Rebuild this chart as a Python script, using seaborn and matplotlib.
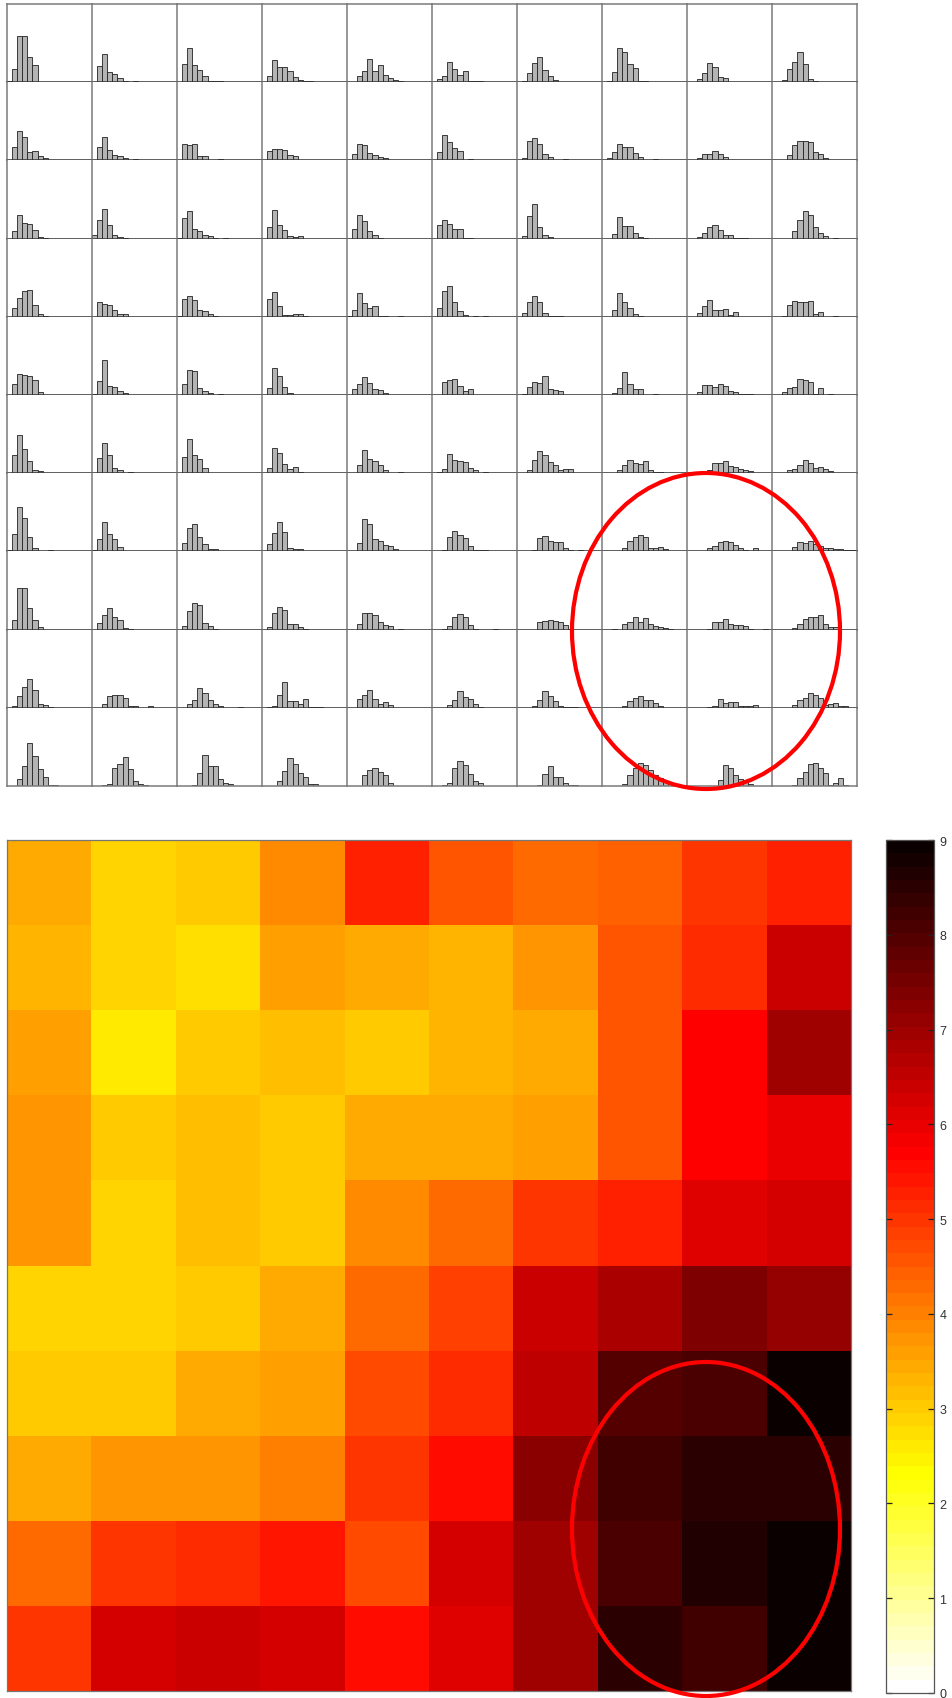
import numpy as np
import pandas as pd
import matplotlib
import matplotlib.pyplot as plt
import seaborn as sns
from matplotlib.patches import Ellipse

# bar heights of the small histograms, one list per grid row (10 cells each),
# bins start at 0 and have unit width
hist_row0 = [
    [1, 13, 46, 46, 25, 17],
    [0, 16, 28, 10, 8, 4, 1, 0, 1],
    [0, 18, 34, 17, 12, 6, 1, 1, 1],
    [0, 6, 22, 15, 15, 11, 5, 2, 1, 1],
    [0, 0, 6, 11, 23, 11, 17, 7, 4, 2, 1],
    [0, 3, 6, 20, 13, 7, 11, 1, 1, 1],
    [0, 1, 9, 19, 25, 12, 6, 2],
    [0, 1, 10, 34, 30, 18, 14, 1, 1],
    [0, 0, 3, 9, 19, 15, 5, 4],
    [0, 0, 2, 13, 20, 30, 18, 3, 1],
]
hist_row1 = [
    [0, 13, 29, 23, 8, 9, 4, 2],
    [0, 13, 23, 10, 5, 4, 2, 0, 1],
    [0, 16, 15, 16, 4, 4, 0, 0, 1],
    [0, 9, 11, 11, 10, 5, 4],
    [0, 6, 16, 15, 7, 5, 3, 2],
    [0, 8, 25, 18, 12, 9, 0, 1],
    [0, 2, 19, 22, 16, 6, 3, 0, 0, 1],
    [0, 2, 8, 16, 13, 13, 7, 3, 0, 0, 1],
    [0, 0, 2, 6, 6, 9, 6, 3],
    [0, 0, 0, 5, 15, 19, 19, 18, 8, 6, 2],
]
hist_row2 = [
    [0, 8, 24, 16, 15, 9, 2, 1],
    [4, 19, 30, 14, 4, 2, 1],
    [1, 21, 28, 10, 8, 4, 3, 1, 0, 1],
    [0, 12, 29, 14, 9, 3, 2, 3],
    [0, 10, 24, 18, 8, 4, 1],
    [0, 14, 19, 15, 10, 10, 1, 1],
    [0, 3, 23, 35, 12, 4, 2],
    [0, 0, 5, 22, 13, 13, 6, 2, 1],
    [0, 0, 2, 6, 12, 14, 9, 4, 4, 1, 1, 1],
    [0, 0, 0, 0, 8, 19, 28, 24, 12, 6, 3, 0, 1],
]
hist_row3 = [
    [0, 9, 19, 26, 27, 12, 3, 1],
    [0, 15, 13, 12, 7, 3, 3],
    [1, 18, 21, 17, 7, 6, 3, 1],
    [0, 18, 25, 11, 2, 2, 3, 3, 1],
    [1, 7, 24, 14, 9, 11, 1, 1, 0, 0, 1],
    [0, 9, 26, 31, 15, 6, 2, 0, 1, 0, 1],
    [0, 4, 15, 21, 15, 4, 1, 1, 1],
    [0, 0, 7, 24, 15, 9, 3, 1],
    [0, 0, 4, 11, 17, 7, 7, 8, 2, 5],
    [0, 0, 1, 12, 16, 15, 15, 16, 3, 5, 0, 0, 1],
]
hist_row4 = [
    [0, 11, 21, 20, 19, 15, 3],
    [1, 14, 35, 9, 8, 4, 2],
    [0, 11, 25, 24, 7, 4, 2, 0, 1],
    [0, 7, 27, 19, 8, 2],
    [0, 6, 11, 18, 12, 6, 5, 2],
    [0, 0, 13, 15, 16, 9, 4, 6],
    [0, 1, 8, 13, 12, 19, 6, 5, 4],
    [0, 0, 2, 7, 23, 11, 6, 6, 0, 0, 1],
    [0, 0, 3, 10, 10, 8, 11, 9, 4, 3, 1, 1, 1],
    [0, 0, 3, 7, 8, 16, 15, 13, 1, 7, 0, 1],
]
hist_row5 = [
    [0, 18, 38, 24, 12, 3, 2],
    [0, 15, 30, 18, 5, 3, 0, 1],
    [0, 16, 34, 18, 14, 5],
    [0, 5, 25, 20, 9, 4, 6, 1],
    [0, 0, 8, 23, 14, 12, 8, 3, 0, 0, 1],
    [0, 1, 4, 19, 13, 12, 11, 5, 3, 0, 1],
    [0, 0, 3, 13, 22, 18, 11, 8, 3, 4, 4],
    [0, 0, 0, 3, 8, 13, 10, 9, 12, 3, 1, 1],
    [0, 0, 0, 0, 3, 10, 10, 12, 7, 6, 4, 3, 2],
    [0, 0, 0, 3, 4, 8, 13, 10, 5, 6, 4, 2],
]
hist_row6 = [
    [1, 17, 44, 33, 14, 3, 0, 0, 1],
    [1, 12, 29, 17, 12, 4],
    [0, 8, 23, 27, 14, 7, 2, 2],
    [0, 7, 18, 29, 19, 3, 2, 2],
    [0, 0, 8, 32, 27, 12, 10, 6, 5, 2],
    [0, 0, 1, 14, 20, 16, 13, 5, 1, 1, 1],
    [0, 0, 0, 1, 13, 15, 10, 9, 9, 3, 1, 0, 1],
    [0, 0, 0, 0, 3, 10, 14, 16, 14, 3, 3, 4, 2],
    [0, 0, 0, 0, 3, 5, 9, 10, 9, 6, 3, 1, 0, 3],
    [0, 0, 0, 0, 4, 9, 8, 10, 7, 5, 3, 3, 2, 2, 1, 1, 1],
]
hist_row7 = [
    [0, 10, 41, 41, 22, 10, 3],
    [0, 7, 15, 22, 13, 10, 2, 1],
    [0, 4, 19, 27, 25, 7, 4, 1],
    [0, 3, 17, 23, 20, 6, 6, 3, 1],
    [0, 0, 6, 17, 17, 15, 8, 5, 4, 0, 1],
    [0, 0, 1, 4, 13, 16, 13, 5, 1, 0, 0, 0, 1],
    [0, 0, 0, 0, 8, 9, 10, 9, 8, 5, 1],
    [0, 0, 1, 0, 6, 8, 13, 8, 12, 6, 4, 3, 2, 1],
    [0, 0, 0, 0, 1, 8, 8, 11, 6, 5, 5, 4, 1, 0, 0, 1],
    [0, 0, 0, 0, 2, 6, 11, 13, 13, 15, 6, 3, 3],
]
hist_row8 = [
    [0, 2, 12, 21, 29, 18, 4, 3, 1],
    [0, 0, 4, 12, 13, 13, 10, 2, 2, 0, 0, 2],
    [0, 0, 4, 8, 20, 15, 8, 4, 2, 0, 0, 0, 1],
    [0, 1, 2, 13, 26, 7, 7, 4, 9, 1, 1, 1],
    [0, 0, 9, 13, 18, 9, 4, 6, 3],
    [0, 0, 0, 3, 8, 17, 11, 9, 4, 1],
    [0, 0, 0, 2, 8, 17, 12, 7, 2, 1, 1, 1],
    [0, 0, 0, 0, 2, 7, 10, 12, 8, 8, 5, 2],
    [0, 0, 0, 0, 1, 2, 9, 5, 6, 6, 2, 2, 2, 3],
    [0, 0, 0, 0, 3, 8, 10, 15, 13, 10, 3, 4, 5, 2, 2],
]
hist_row9 = [
    [0, 0, 7, 20, 43, 30, 17, 9, 1, 1],
    [0, 0, 1, 2, 18, 22, 29, 17, 5, 2, 1],
    [0, 0, 0, 1, 13, 31, 20, 20, 7, 3, 2],
    [0, 0, 0, 5, 15, 28, 22, 13, 9, 2, 2],
    [0, 0, 0, 11, 16, 18, 14, 11, 3],
    [0, 0, 1, 3, 18, 25, 21, 12, 5, 3],
    [0, 0, 0, 0, 1, 12, 20, 9, 9, 3, 1, 1],
    [0, 0, 0, 0, 2, 11, 18, 23, 21, 16, 11, 8, 4],
    [0, 0, 0, 0, 0, 0, 6, 21, 18, 11, 7, 4, 2],
    [0, 0, 0, 0, 1, 8, 14, 22, 23, 18, 13, 1, 3, 8, 1],
]
hist_rows = [hist_row0, hist_row1, hist_row2, hist_row3, hist_row4,
             hist_row5, hist_row6, hist_row7, hist_row8, hist_row9]

# per-cell values of the heat map (top row first)
heat_values = [
    [3.48, 2.90, 3.03, 3.89, 5.28, 4.60, 4.23, 4.40, 4.96, 5.28],
    [3.35, 2.90, 2.73, 3.62, 3.48, 3.35, 3.78, 4.50, 5.17, 6.39],
    [3.62, 2.62, 3.03, 3.16, 3.03, 3.35, 3.45, 4.58, 5.71, 6.98],
    [3.78, 3.03, 3.16, 3.03, 3.45, 3.45, 3.55, 4.58, 5.64, 6.02],
    [3.78, 2.90, 3.16, 3.03, 3.89, 4.29, 4.93, 5.30, 6.05, 6.26],
    [2.86, 2.86, 3.03, 3.43, 4.23, 4.85, 6.33, 6.84, 7.42, 7.08],
    [3.03, 3.03, 3.45, 3.55, 4.75, 5.15, 6.58, 7.95, 8.11, 8.86],
    [3.45, 3.72, 3.72, 4.00, 5.00, 5.62, 7.20, 8.18, 8.45, 8.49],
    [4.29, 5.00, 5.17, 5.44, 4.72, 6.19, 6.98, 8.11, 8.60, 9.00],
    [5.06, 6.19, 6.46, 6.19, 5.60, 6.05, 6.98, 8.45, 8.28, 8.92],
]
cbar_ticks = list(range(10))

W, H = 952, 1699
fig = plt.figure(figsize=(W / 100, H / 100), dpi=100)


def box(x0, y0, x1, y1):
    # pixel box (top-left origin) -> figure fraction rect
    return [x0 / W, 1 - y1 / H, (x1 - x0) / W, (y1 - y0) / H]


# grid of histograms
cw, ch = 85.0, 78.2
for r, row in enumerate(hist_rows):
    for c, counts in enumerate(row):
        ax = fig.add_axes(box(7 + c * cw, 5 + r * ch, 7 + (c + 1) * cw, 5 + (r + 1) * ch))
        n = len(counts)
        df = pd.DataFrame({"x": np.arange(n) + 0.5, "w": np.asarray(counts, dtype=float)})
        sns.histplot(data=df, x="x", weights="w", bins=n, binrange=(0, n), ax=ax,
                     color="#b4b4b4", edgecolor="#222222", linewidth=0.6, alpha=1)
        ax.set_xlim(0, 16.7)
        ax.set_ylim(0, 78)
        ax.set_xticks([])
        ax.set_yticks([])
        ax.set_xlabel("")
        ax.set_ylabel("")
        ax.set_facecolor("white")
        for sp in ax.spines.values():
            sp.set_linewidth(1.1)
            sp.set_color("#7a7a7a")
        ax.spines["top"].set_visible(r == 0)
        ax.spines["right"].set_visible(c == 9)
        if r < 9:
            ax.spines["bottom"].set_color("#333333")

# heat map + colorbar
hax = fig.add_axes(box(7, 841, 851, 1692))
cax = fig.add_axes(box(886, 841, 934, 1694))
cmap = matplotlib.colormaps["hot_r"].resampled(64)
sns.heatmap(np.array(heat_values), cmap=cmap, vmin=0, vmax=9, ax=hax, cbar_ax=cax,
            xticklabels=False, yticklabels=False)
for sp in hax.spines.values():
    sp.set_visible(True)
    sp.set_color("#777777")
    sp.set_linewidth(0.9)

cb = hax.collections[0].colorbar
cb.set_ticks(cbar_ticks)
cb.outline.set_visible(True)
cb.outline.set_linewidth(0.9)
cb.outline.set_edgecolor("#555555")
cax.tick_params(axis="y", which="major", direction="in", left=True, right=True,
                length=4.5, width=0.9, color="#222222", labelcolor="#333333",
                labelsize=9, pad=4)
for lab in cax.get_yticklabels():
    lab.set_family(["Liberation Sans", "DejaVu Sans"])

# red ellipses marking the lower-right region
for cy, eh in [(632, 316), (1530, 334)]:
    fig.add_artist(Ellipse((706 / W, 1 - cy / H), 268 / W, eh / H,
                           transform=fig.transFigure, fill=False,
                           edgecolor="#ff0000", linewidth=3, zorder=10))

fig.savefig("out.png", dpi=100)
